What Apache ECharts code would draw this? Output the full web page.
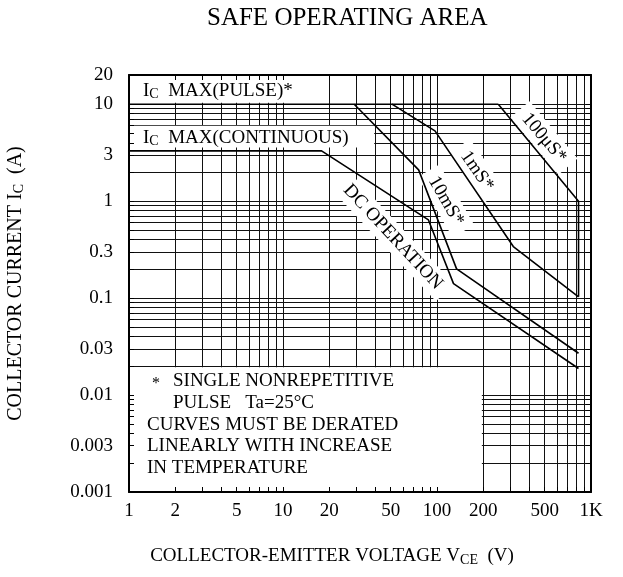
<!DOCTYPE html>
<html>
<head>
<meta charset="utf-8">
<script src="https://cdn.jsdelivr.net/npm/echarts@6/dist/echarts.min.js"></script>
<style>
html, body { margin: 0; padding: 0; background: #fff; }
#chart { width: 623px; height: 577px; }
</style>
</head>
<body>
<div id="chart"></div>
<script>
// axis labels and grid lines
var xLabels = [1, 2, 5, 10, 20, 50, 100, 200, 500, 1000];
var yLabels = [0.001, 0.003, 0.01, 0.03, 0.1, 0.3, 1, 3, 10, 20];
var xGrid = [1, 2, 3, 4, 5, 6, 7, 8, 9,
	10, 20, 30, 40, 50, 60, 70, 80, 90,
	100, 200, 300, 400, 500, 600, 700, 800, 900, 1000];
var yGrid = [0.001, 0.002, 0.003, 0.004, 0.005, 0.006, 0.007, 0.008, 0.009,
	0.01, 0.02, 0.03, 0.04, 0.05, 0.06, 0.07, 0.08, 0.09,
	0.1, 0.2, 0.3, 0.4, 0.5, 0.6, 0.7, 0.8, 0.9,
	1, 2, 3, 4, 5, 6, 7, 8, 9, 10, 20];

// SOA boundaries (VCE in V, IC in A)
var pulseV = [1, 250];
var pulseI = [10, 10];
var us100V = [250, 830, 830];
var us100I = [10, 1.0, 0.103];
var ms1V = [51, 97, 313, 830];
var ms1I = [10, 5.3, 0.34, 0.103];
var ms10V = [29, 76, 134, 830];
var ms10I = [10, 2.1, 0.2, 0.027];
var dcV = [1, 17.8, 88, 128, 830];
var dcI = [3.3, 3.3, 0.64, 0.141, 0.0188];

var FONT = '"Liberation Serif", "DejaVu Serif", serif';

function pairs(xs, ys) {
	var out = [];
	for (var i = 0; i < xs.length; i++) out.push([xs[i], ys[i]]);
	return out;
}
function fmt(v) {
	if (Math.abs(v - 1000) < 1e-6) return '1K';
	return String(Number(v.toPrecision(6)));
}
function curve(name, xs, ys) {
	return {
		name: name,
		type: 'line',
		xAxisIndex: 0,
		yAxisIndex: 0,
		data: pairs(xs, ys),
		symbol: 'none',
		silent: true,
		z: 30,
		lineStyle: { color: '#000', width: 1.6 }
	};
}

var subStyle = { fontSize: 14, fontFamily: FONT, color: '#000', padding: [7, 0, 0, 0] };

var chart = echarts.init(document.getElementById('chart'));
var option = {
	animation: false,
	backgroundColor: '#fff',
	title: {
		text: 'SAFE OPERATING AREA',
		left: 207,
		top: 6,
		padding: 0,
		textStyle: { fontFamily: FONT, fontSize: 25, fontWeight: 'normal', color: '#000' }
	},
	grid: { left: 129, right: 32, top: 75, bottom: 85, outerBoundsMode: 'none' },
	xAxis: [{
		type: 'log', logBase: 10, min: 1, max: 1000, position: 'bottom', z: 20,
		axisLine: { show: true, onZero: false, lineStyle: { color: '#000', width: 2 } },
		axisTick: { show: true, inside: true, length: 5, customValues: xGrid, lineStyle: { color: '#000' } },
		axisLabel: { customValues: xLabels, formatter: fmt, margin: 10, color: '#000', fontFamily: FONT, fontSize: 19 },
		splitLine: { show: false },
		name: 'COLLECTOR-EMITTER VOLTAGE V{s|CE}  (V)',
		nameLocation: 'middle',
		nameGap: 54,
		nameTextStyle: { fontFamily: FONT, fontSize: 19, color: '#000', padding: [0, 56, 0, 0], rich: { s: subStyle } }
	}, {
		type: 'log', logBase: 10, min: 1, max: 1000, position: 'top', z: 20,
		axisLine: { show: true, onZero: false, lineStyle: { color: '#000', width: 2 } },
		axisTick: { show: true, inside: true, length: 5, customValues: xGrid, lineStyle: { color: '#000' } },
		axisLabel: { show: false },
		splitLine: { show: false }
	}, {
		type: 'log', logBase: 10, min: 1, max: 1000, position: 'bottom', z: 0,
		axisLine: { show: false },
		axisTick: { show: false, customValues: xGrid },
		axisLabel: { show: false },
		splitLine: { show: true, lineStyle: { color: '#111', width: 1 } }
	}],
	yAxis: [{
		type: 'log', logBase: 10, min: 0.001, max: 20, position: 'left', z: 20,
		axisLine: { show: true, onZero: false, lineStyle: { color: '#000', width: 2 } },
		axisTick: { show: true, inside: true, length: 5, customValues: yGrid, lineStyle: { color: '#000' } },
		axisLabel: { customValues: yLabels, formatter: fmt, margin: 16, color: '#000', fontFamily: FONT, fontSize: 19 },
		splitLine: { show: false },
		name: 'COLLECTOR CURRENT I{s|C}  (A)',
		nameLocation: 'middle',
		nameRotate: 90,
		nameGap: 103,
		nameTextStyle: { fontFamily: FONT, fontSize: 20, color: '#000', rich: { s: subStyle } }
	}, {
		type: 'log', logBase: 10, min: 0.001, max: 20, position: 'right', z: 20,
		axisLine: { show: true, onZero: false, lineStyle: { color: '#000', width: 2 } },
		axisTick: { show: true, inside: true, length: 5, customValues: yGrid, lineStyle: { color: '#000' } },
		axisLabel: { show: false },
		splitLine: { show: false }
	}, {
		type: 'log', logBase: 10, min: 0.001, max: 20, position: 'left', z: 0,
		axisLine: { show: false },
		axisTick: { show: false, customValues: yGrid },
		axisLabel: { show: false },
		splitLine: { show: true, lineStyle: { color: '#111', width: 1 } }
	}],
	series: [
		curve('IC MAX(PULSE)', pulseV, pulseI),
		curve('100uS', us100V, us100I),
		curve('1mS', ms1V, ms1I),
		curve('10mS', ms10V, ms10I),
		curve('DC', dcV, dcI)
	]
};
chart.setOption(option);

// white boxes behind the labels, placed from axis values
function px(v, i) {
	return chart.convertToPixel({ xAxisIndex: 0, yAxisIndex: 0 }, [v, i]);
}
function box(v0, i0, v1, i1) {
	var a = px(v0, i0), b = px(v1, i1);
	return {
		type: 'rect', z: 5, silent: true,
		shape: { x: a[0] + 1.5, y: a[1] + 1.5, width: b[0] - a[0] - 3, height: b[1] - a[1] - 3 },
		style: { fill: '#fff' }
	};
}
function txt(x, y, s, size, rot, bg) {
	var el = {
		type: 'text', z: 25, silent: true, x: x, y: y,
		rotation: (rot || 0) * Math.PI / 180,
		style: {
			text: s, fontFamily: FONT, fontSize: size, fill: '#000',
			align: rot ? 'center' : 'left', verticalAlign: 'middle',
			textAlign: rot ? 'center' : 'left', textVerticalAlign: 'middle',
			rich: { s: subStyle }
		}
	};
	if (bg) {
		el.style.backgroundColor = '#fff';
		el.style.padding = [3, 8];
	}
	return el;
}

chart.setOption({
	graphic: [
		box(1, 20, 20, 10),
		box(1, 6.2, 40, 3.45),
		box(1, 0.02, 200, 0.001),
		txt(143, 91, 'I{s|C}  MAX(PULSE)*', 19),
		txt(143, 138, 'I{s|C}  MAX(CONTINUOUS)', 19),
		txt(544, 138, '100μS*', 19, -50, true),
		txt(477, 171, '1mS*', 19, -55, true),
		txt(446, 201, '10mS*', 19, -60, true),
		txt(393, 237, 'DC OPERATION', 19, -47, true),
		txt(152, 384, '*', 16),
		txt(173, 381, 'SINGLE NONREPETITIVE', 19),
		txt(173, 403, 'PULSE   Ta=25°C', 19),
		txt(147, 425, 'CURVES MUST BE DERATED', 19),
		txt(147, 446, 'LINEARLY WITH INCREASE', 19),
		txt(147, 468, 'IN TEMPERATURE', 19)
	]
});

window.addEventListener('resize', function () {
	chart.resize();
});
</script>
</body>
</html>
